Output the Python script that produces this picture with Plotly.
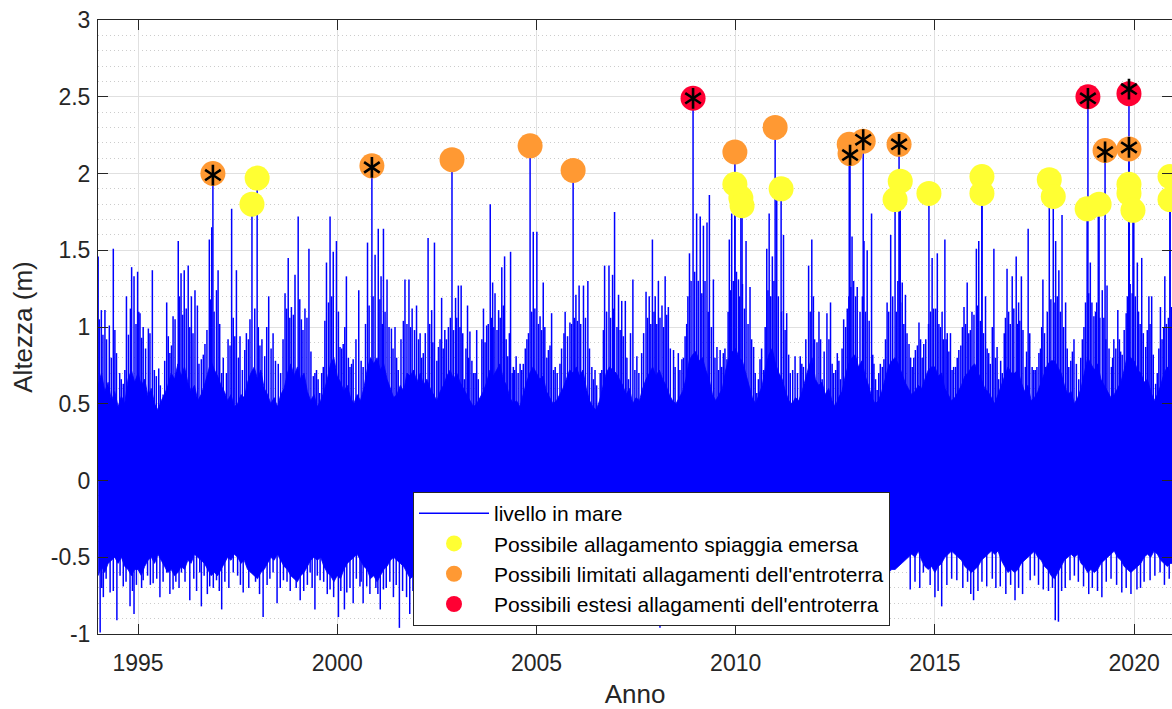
import plotly.graph_objects as go

# ---------------------------------------------------------------
# Sea level record (m), decimal years
# ---------------------------------------------------------------

# monthly envelope of the dense tidal band, Jan 1994 .. Jan 2021
band_start = 1994.0
band_top = [
    0.62, 0.70, 0.58, 0.64, 0.52, 0.58, 0.48, 0.55, 0.50, 0.66, 0.72, 0.64,
    0.70, 0.62, 0.66, 0.55, 0.60, 0.50, 0.46, 0.52, 0.56, 0.62, 0.70, 0.66,
    0.76, 0.68, 0.74, 0.64, 0.58, 0.62, 0.52, 0.56, 0.62, 0.70, 0.78, 0.72,
    0.68, 0.62, 0.58, 0.52, 0.56, 0.48, 0.50, 0.56, 0.54, 0.64, 0.70, 0.74,
    0.66, 0.72, 0.60, 0.56, 0.50, 0.54, 0.48, 0.56, 0.60, 0.70, 0.76, 0.68,
    0.74, 0.66, 0.70, 0.58, 0.52, 0.56, 0.48, 0.52, 0.58, 0.66, 0.76, 0.80,
    0.68, 0.64, 0.58, 0.62, 0.54, 0.50, 0.56, 0.52, 0.60, 0.72, 0.80, 0.76,
    0.80, 0.72, 0.76, 0.66, 0.60, 0.54, 0.56, 0.62, 0.58, 0.70, 0.68, 0.72,
    0.64, 0.70, 0.62, 0.66, 0.60, 0.56, 0.52, 0.58, 0.62, 0.68, 0.72, 0.66,
    0.70, 0.64, 0.60, 0.56, 0.52, 0.48, 0.50, 0.54, 0.58, 0.64, 0.72, 0.68,
    0.72, 0.76, 0.66, 0.62, 0.54, 0.50, 0.52, 0.48, 0.56, 0.64, 0.70, 0.74,
    0.70, 0.66, 0.68, 0.58, 0.54, 0.50, 0.52, 0.56, 0.60, 0.66, 0.72, 0.70,
    0.74, 0.68, 0.72, 0.60, 0.52, 0.48, 0.46, 0.52, 0.62, 0.70, 0.74, 0.72,
    0.70, 0.66, 0.62, 0.56, 0.60, 0.50, 0.54, 0.52, 0.60, 0.66, 0.70, 0.74,
    0.68, 0.72, 0.66, 0.62, 0.56, 0.52, 0.50, 0.54, 0.58, 0.66, 0.78, 0.82,
    0.84, 0.78, 0.80, 0.72, 0.66, 0.56, 0.52, 0.56, 0.60, 0.72, 0.80, 0.84,
    0.86, 0.80, 0.78, 0.70, 0.62, 0.54, 0.50, 0.56, 0.62, 0.74, 0.82, 0.86,
    0.76, 0.70, 0.66, 0.58, 0.52, 0.50, 0.54, 0.52, 0.58, 0.66, 0.74, 0.80,
    0.66, 0.62, 0.64, 0.56, 0.60, 0.52, 0.48, 0.54, 0.58, 0.68, 0.76, 0.80,
    0.82, 0.74, 0.78, 0.68, 0.62, 0.54, 0.50, 0.52, 0.58, 0.66, 0.74, 0.78,
    0.80, 0.76, 0.70, 0.64, 0.60, 0.56, 0.58, 0.62, 0.60, 0.66, 0.72, 0.74,
    0.74, 0.68, 0.70, 0.60, 0.56, 0.52, 0.54, 0.58, 0.62, 0.68, 0.70, 0.74,
    0.76, 0.70, 0.66, 0.60, 0.58, 0.54, 0.50, 0.56, 0.62, 0.68, 0.74, 0.70,
    0.70, 0.72, 0.64, 0.58, 0.62, 0.52, 0.54, 0.58, 0.64, 0.70, 0.76, 0.78,
    0.78, 0.74, 0.70, 0.62, 0.56, 0.58, 0.50, 0.54, 0.60, 0.70, 0.80, 0.76,
    0.72, 0.76, 0.66, 0.62, 0.58, 0.54, 0.56, 0.60, 0.64, 0.72, 0.82, 0.80,
    0.78, 0.72, 0.70, 0.64, 0.66, 0.58, 0.52, 0.56, 0.62, 0.70, 0.74, 0.70,
    0.72,
]
band_bottom = [
    -0.62, -0.56, -0.60, -0.54, -0.52, -0.50, -0.54, -0.50, -0.56, -0.58, -0.62, -0.58,
    -0.58, -0.62, -0.56, -0.52, -0.50, -0.54, -0.48, -0.52, -0.56, -0.60, -0.58, -0.62,
    -0.60, -0.56, -0.58, -0.52, -0.54, -0.48, -0.50, -0.52, -0.54, -0.58, -0.62, -0.60,
    -0.62, -0.58, -0.54, -0.50, -0.52, -0.48, -0.50, -0.54, -0.52, -0.58, -0.60, -0.62,
    -0.64, -0.60, -0.58, -0.54, -0.50, -0.52, -0.48, -0.52, -0.56, -0.58, -0.62, -0.64,
    -0.66, -0.62, -0.60, -0.56, -0.52, -0.50, -0.52, -0.50, -0.56, -0.60, -0.62, -0.66,
    -0.62, -0.64, -0.58, -0.54, -0.52, -0.50, -0.48, -0.52, -0.56, -0.58, -0.64, -0.62,
    -0.66, -0.62, -0.58, -0.56, -0.52, -0.50, -0.52, -0.54, -0.56, -0.60, -0.64, -0.62,
    -0.60, -0.58, -0.56, -0.52, -0.50, -0.48, -0.50, -0.52, -0.54, -0.58, -0.60, -0.62,
    -0.62, -0.58, -0.56, -0.54, -0.50, -0.48, -0.50, -0.52, -0.56, -0.58, -0.62, -0.60,
    -0.60, -0.62, -0.56, -0.52, -0.50, -0.52, -0.48, -0.50, -0.54, -0.58, -0.60, -0.64,
    -0.62, -0.58, -0.56, -0.52, -0.50, -0.48, -0.50, -0.52, -0.56, -0.60, -0.62, -0.60,
    -0.62, -0.60, -0.56, -0.54, -0.50, -0.48, -0.46, -0.50, -0.54, -0.58, -0.60, -0.62,
    -0.60, -0.58, -0.54, -0.52, -0.50, -0.48, -0.50, -0.52, -0.56, -0.58, -0.62, -0.60,
    -0.64, -0.60, -0.56, -0.52, -0.50, -0.48, -0.50, -0.52, -0.56, -0.60, -0.62, -0.64,
    -0.62, -0.60, -0.58, -0.54, -0.50, -0.48, -0.50, -0.54, -0.56, -0.60, -0.64, -0.62,
    -0.64, -0.62, -0.58, -0.54, -0.52, -0.50, -0.48, -0.52, -0.56, -0.58, -0.62, -0.60,
    -0.60, -0.58, -0.56, -0.52, -0.50, -0.48, -0.50, -0.52, -0.54, -0.58, -0.60, -0.62,
    -0.62, -0.60, -0.56, -0.54, -0.50, -0.48, -0.46, -0.50, -0.54, -0.58, -0.60, -0.62,
    -0.64, -0.60, -0.56, -0.52, -0.50, -0.48, -0.50, -0.52, -0.56, -0.58, -0.60, -0.58,
    -0.58, -0.56, -0.54, -0.52, -0.50, -0.48, -0.50, -0.46, -0.52, -0.56, -0.58, -0.56,
    -0.60, -0.56, -0.54, -0.50, -0.48, -0.46, -0.48, -0.50, -0.52, -0.56, -0.58, -0.60,
    -0.58, -0.56, -0.52, -0.50, -0.48, -0.46, -0.48, -0.46, -0.52, -0.56, -0.60, -0.58,
    -0.60, -0.58, -0.54, -0.52, -0.50, -0.48, -0.46, -0.50, -0.52, -0.56, -0.58, -0.62,
    -0.64, -0.60, -0.56, -0.52, -0.50, -0.48, -0.50, -0.48, -0.54, -0.56, -0.60, -0.58,
    -0.60, -0.58, -0.54, -0.52, -0.50, -0.48, -0.46, -0.50, -0.52, -0.56, -0.58, -0.60,
    -0.58, -0.56, -0.54, -0.50, -0.48, -0.50, -0.46, -0.48, -0.52, -0.54, -0.56, -0.54,
    -0.54,
]

# surge peaks above the tidal band
peak_t = [
    1994.00, 1994.08, 1994.17, 1994.28, 1994.38, 1994.46, 1994.54, 1994.63, 1994.71, 1994.84,
    1994.90, 1994.99, 1995.05, 1995.13, 1995.26, 1995.36, 1995.46, 1995.52, 1995.63, 1995.72,
    1995.80, 1995.88, 1996.01, 1996.08, 1996.16, 1996.26, 1996.34, 1996.43, 1996.49, 1996.59,
    1996.68, 1996.79, 1996.85, 1996.97, 1997.01, 1997.10, 1997.18, 1997.26, 1997.35, 1997.43,
    1997.47, 1997.56, 1997.68, 1997.77, 1998.06, 1998.18, 1998.28, 1998.39, 1998.52, 1998.69,
    1998.77, 1998.85, 1998.94, 1999.02, 1999.10, 1999.19, 1999.29, 1999.40, 1999.48, 1999.56,
    1999.65, 1999.73, 1999.82, 1999.90, 1999.98, 2000.07, 2000.15, 2000.23, 2000.32, 2000.40,
    2000.54, 2000.65, 2000.76, 2000.95, 2001.03, 2001.10, 2001.16, 2001.25, 2001.36, 2001.45,
    2001.53, 2001.70, 2001.80, 2001.88, 2001.99, 2002.08, 2002.16, 2002.28, 2002.37, 2002.44,
    2002.54, 2002.62, 2002.70, 2002.79, 2002.97,
    2003.04, 2003.11, 2003.19, 2003.27, 2003.33, 2003.42, 2003.50, 2003.58, 2003.67, 2003.75,
    2003.84, 2003.90, 2003.96, 2004.05, 2004.13, 2004.20, 2004.28, 2004.35, 2004.42, 2004.49,
    2004.59, 2004.67, 2004.76, 2004.92, 2005.01, 2005.09, 2005.17, 2005.30, 2005.38, 2005.47,
    2005.59, 2005.72, 2005.84, 2005.99, 2006.07, 2006.18, 2006.29, 2006.39, 2006.47, 2006.56,
    2006.64, 2006.71, 2006.82, 2006.91, 2006.96, 2007.06, 2007.14, 2007.23, 2007.31, 2007.42,
    2007.52, 2007.64, 2007.75, 2007.83, 2007.91, 2007.98, 2008.06, 2008.15, 2008.23, 2008.31,
    2008.44, 2008.56, 2008.65, 2008.73, 2008.84, 2009.02, 2009.11, 2009.19, 2009.28, 2009.34,
    2009.44, 2009.53, 2009.61, 2009.69, 2009.78, 2009.84, 2009.90, 2010.07, 2010.26, 2010.36,
    2010.45, 2010.53, 2010.61, 2010.70, 2010.78, 2010.84, 2010.92, 2011.03, 2011.20, 2011.28,
    2011.37, 2011.49, 2011.62, 2011.70, 2011.83, 2011.91,
    2011.98, 2012.09, 2012.17, 2012.29, 2012.38, 2012.46, 2012.55, 2012.63, 2012.71, 2012.80,
    2012.92, 2013.01, 2013.22, 2013.30, 2013.41, 2013.47, 2013.55, 2013.63, 2013.72, 2013.80,
    2013.89, 2014.11, 2014.18, 2014.26, 2014.35, 2014.43, 2014.51, 2014.60, 2014.72, 2014.93,
    2015.06, 2015.14, 2015.25, 2015.31, 2015.39, 2015.47, 2015.60, 2015.73, 2015.81, 2015.89,
    2016.04, 2016.10, 2016.27, 2016.35, 2016.48, 2016.56, 2016.69, 2016.81, 2016.94, 2017.04,
    2017.10, 2017.17, 2017.27, 2017.34, 2017.44, 2017.52, 2017.61, 2017.71, 2017.78, 2018.03,
    2018.11, 2018.19, 2018.28, 2018.36, 2018.49, 2018.61, 2018.74, 2018.90, 2018.99, 2019.10,
    2019.20, 2019.32, 2019.43, 2019.49, 2019.59, 2019.70, 2019.80, 2019.99, 2020.08, 2020.19,
    2020.29, 2020.37, 2020.44, 2020.54, 2020.66, 2020.77, 2020.94,
]
peak_v = [
    1.46, 1.11, 1.11, 1.01, 1.51, 0.83, 0.70, 0.63, 1.20, 1.39,
    1.33, 1.36, 1.09, 1.00, 0.99, 1.37, 0.68, 0.73, 0.56, 1.16,
    0.83, 1.07, 1.56, 1.35, 1.37, 1.40, 1.20, 1.24, 1.14, 0.79,
    0.89, 1.57, 1.65, 1.24, 1.37, 0.70, 0.46, 0.92, 1.77, 0.94,
    1.37, 0.94, 0.85, 0.92, 0.88, 0.81, 1.20, 0.96, 0.76, 1.22,
    1.45, 1.13, 1.34, 1.72, 1.05, 1.12, 1.51, 0.68, 0.72, 0.57,
    0.74, 1.42, 1.72, 1.49, 1.56, 0.87, 0.89, 1.33, 0.74, 0.79,
    1.24, 0.74, 1.55, 1.47, 1.64, 1.33, 1.64, 1.31, 0.99, 1.00,
    0.72, 1.31, 1.31, 1.12, 1.14, 0.96, 0.83, 1.58, 1.11, 1.55,
    0.87, 1.19, 0.98, 1.00, 1.19,
    1.27, 1.27, 0.66, 1.14, 0.97, 0.70, 0.98, 0.50, 1.12, 1.01,
    1.80, 1.29, 1.22, 1.11, 1.39, 1.46, 0.81, 1.49, 0.74, 0.81,
    0.76, 0.76, 0.92, 1.62, 1.62, 1.07, 1.29, 0.85, 1.09, 0.74,
    0.76, 1.10, 1.03, 1.21, 1.27, 1.27, 1.30, 0.74, 0.72, 0.48,
    0.72, 1.40, 1.40, 1.34, 1.75, 1.21, 1.17, 1.17, 0.66, 1.31,
    0.81, 0.83, 1.23, 1.20, 1.57, 1.20, 1.30, 1.14, 1.33, 1.13,
    0.85, 0.83, 0.79, 0.94, 1.48, 1.74, 1.72, 1.66, 1.68, 1.86,
    1.31, 0.87, 0.85, 0.83, 0.79, 1.57, 1.74, 1.31, 1.56, 1.26,
    0.87, 0.57, 0.79, 0.72, 1.51, 1.74, 1.46, 1.83, 1.60, 1.09,
    0.70, 0.81, 0.81, 0.74, 1.40, 1.57,
    0.92, 1.10, 0.66, 1.09, 1.16, 0.70, 0.83, 0.66, 1.05, 1.12,
    1.59, 1.20, 1.56, 1.50, 1.74, 0.76, 0.59, 0.76, 0.79, 1.16,
    1.60, 1.76, 1.29, 1.21, 0.89, 0.74, 0.85, 1.03, 0.89, 1.45,
    1.48, 1.00, 1.57, 0.96, 0.96, 0.74, 0.85, 1.13, 1.29, 0.98,
    1.51, 1.56, 1.20, 0.83, 1.51, 0.87, 0.70, 1.38, 1.33, 1.46,
    1.16, 1.33, 0.74, 1.64, 0.74, 0.72, 0.83, 1.31, 0.74, 1.56,
    1.37, 1.73, 1.16, 0.74, 0.92, 0.66, 1.00, 1.42, 1.07, 1.72,
    1.24, 1.27, 0.74, 0.92, 1.11, 0.82, 1.09, 1.70, 1.42, 1.45,
    0.87, 1.20, 1.20, 0.63, 1.13, 1.33, 1.13,
]

# smaller high waters between the main peaks (year, level)
minor_peaks = [
    (1994.03, 1.05), (1994.12, 0.95), (1994.21, 0.92), (1994.33, 0.80), (1994.42, 0.98),
    (1994.58, 0.66), (1994.67, 0.72), (1994.76, 0.95), (1994.81, 1.12), (1994.95, 1.02),
    (1995.02, 1.10), (1995.09, 0.93), (1995.19, 0.86), (1995.30, 0.96), (1995.41, 0.72),
    (1995.56, 0.62), (1995.67, 0.78), (1995.76, 0.94), (1995.84, 0.88), (1995.93, 1.05),
    (1996.04, 1.20), (1996.12, 1.08), (1996.21, 1.12), (1996.30, 1.00), (1996.38, 0.96),
    (1996.53, 0.76), (1996.64, 0.82), (1996.73, 0.98), (1996.82, 1.18), (1996.91, 1.10),
    (1997.05, 1.02), (1997.14, 0.80), (1997.22, 0.70), (1997.31, 0.88), (1997.39, 1.06),
    (1997.52, 0.80), (1997.62, 0.72), (1997.72, 0.96), (1997.81, 1.05), (1997.93, 1.12),
    (1998.02, 1.00), (1998.11, 0.92), (1998.23, 1.00), (1998.34, 0.86), (1998.45, 0.78),
    (1998.58, 0.70), (1998.64, 0.92), (1998.73, 1.12), (1998.81, 1.06), (1998.90, 1.08),
    (1999.06, 1.18), (1999.14, 0.98), (1999.24, 1.06), (1999.34, 0.84), (1999.44, 0.70),
    (1999.52, 0.66), (1999.61, 0.70), (1999.69, 1.04), (1999.78, 1.16), (1999.86, 1.20),
    (2000.03, 1.10), (2000.11, 0.86), (2000.19, 1.00), (2000.28, 0.80), (2000.36, 0.76),
    (2000.47, 0.92), (2000.60, 0.78), (2000.71, 1.02), (2000.80, 1.14), (2000.90, 1.20),
    (2001.07, 1.18), (2001.13, 1.02), (2001.20, 1.10), (2001.30, 1.00), (2001.40, 0.86),
    (2001.49, 0.80), (2001.60, 0.92), (2001.66, 1.04), (2001.75, 1.02), (2001.84, 1.00),
    (2001.94, 0.98), (2002.04, 0.92), (2002.12, 0.80), (2002.21, 0.96), (2002.32, 1.02),
    (2002.40, 0.90), (2002.50, 0.78), (2002.58, 0.92), (2002.66, 0.86), (2002.74, 0.92),
    (2002.84, 1.06), (2002.92, 0.98), (2003.00, 1.06), (2003.08, 1.00), (2003.15, 0.96),
    (2003.23, 0.86), (2003.30, 0.80), (2003.38, 0.78), (2003.46, 0.70), (2003.54, 0.66),
    (2003.63, 0.92), (2003.71, 0.90), (2003.79, 1.02), (2003.87, 1.06), (2003.93, 1.00),
    (2004.01, 0.98), (2004.09, 1.06), (2004.17, 1.14), (2004.24, 0.92), (2004.32, 0.96),
    (2004.39, 0.70), (2004.45, 0.72), (2004.54, 0.70), (2004.63, 0.72), (2004.72, 0.86),
    (2004.80, 0.96), (2004.88, 1.10), (2004.96, 1.12), (2005.05, 1.02), (2005.13, 0.98),
    (2005.21, 1.00), (2005.26, 0.80), (2005.34, 0.88), (2005.43, 0.72), (2005.52, 0.70),
    (2005.63, 0.86), (2005.69, 0.96), (2005.78, 0.94), (2005.88, 1.02), (2005.95, 1.06),
    (2006.03, 1.04), (2006.11, 1.02), (2006.23, 1.06), (2006.33, 0.86), (2006.43, 0.66),
    (2006.51, 0.62), (2006.60, 0.70), (2006.68, 0.98), (2006.76, 1.10), (2006.86, 1.06),
    (2006.93, 1.12), (2007.02, 1.00), (2007.10, 0.98), (2007.18, 0.94), (2007.27, 0.80),
    (2007.36, 0.96), (2007.47, 0.72), (2007.57, 0.70), (2007.69, 0.96), (2007.79, 1.06),
    (2007.87, 1.02), (2007.95, 1.10), (2008.02, 1.02), (2008.10, 1.06), (2008.19, 1.00),
    (2008.27, 1.08), (2008.36, 0.86), (2008.48, 0.74), (2008.60, 0.72), (2008.69, 0.80),
    (2008.77, 1.02), (2008.80, 1.20), (2008.88, 1.30), (2008.97, 1.36), (2009.06, 1.30),
    (2009.15, 1.22), (2009.23, 1.30), (2009.31, 1.10), (2009.39, 1.00), (2009.48, 0.80),
    (2009.57, 0.72), (2009.65, 0.74), (2009.73, 0.86), (2009.81, 1.10), (2009.87, 1.24),
    (2009.94, 1.30), (2010.02, 1.36), (2010.10, 1.20), (2010.17, 1.28), (2010.22, 1.12),
    (2010.31, 1.02), (2010.40, 0.92), (2010.49, 0.70), (2010.57, 0.66), (2010.65, 0.86),
    (2010.74, 1.00), (2010.81, 1.24), (2010.88, 1.20), (2010.96, 1.30), (2011.07, 1.20),
    (2011.15, 1.10), (2011.24, 0.98), (2011.33, 0.82), (2011.43, 0.72), (2011.55, 0.70),
    (2011.66, 0.76), (2011.76, 0.92), (2011.87, 1.10), (2011.95, 1.20), (2012.04, 0.90),
    (2012.13, 0.92), (2012.22, 0.84), (2012.34, 0.92), (2012.42, 0.76), (2012.51, 0.72),
    (2012.59, 0.78), (2012.67, 0.86), (2012.76, 1.00), (2012.84, 1.20), (2012.89, 1.26),
    (2012.96, 1.30), (2013.05, 1.26), (2013.12, 1.10), (2013.18, 1.20), (2013.26, 1.10),
    (2013.35, 1.04), (2013.44, 0.82), (2013.51, 0.66), (2013.59, 0.70), (2013.68, 0.74),
    (2013.76, 0.92), (2013.84, 1.10), (2013.94, 1.20), (2014.03, 1.10), (2014.07, 1.30),
    (2014.14, 1.16), (2014.22, 1.02), (2014.30, 0.96), (2014.39, 0.80), (2014.47, 0.80),
    (2014.56, 0.88), (2014.64, 0.92), (2014.68, 0.80), (2014.77, 0.92), (2014.84, 1.02),
    (2014.89, 1.10), (2014.97, 1.12), (2015.02, 1.12), (2015.10, 1.02), (2015.18, 1.10),
    (2015.21, 0.92), (2015.28, 0.92), (2015.35, 0.84), (2015.43, 0.72), (2015.52, 0.74),
    (2015.56, 0.80), (2015.65, 0.88), (2015.69, 1.00), (2015.77, 1.02), (2015.85, 0.96),
    (2015.93, 1.10), (2015.98, 1.08), (2016.07, 1.14), (2016.14, 1.04), (2016.22, 0.96),
    (2016.31, 0.86), (2016.39, 0.76), (2016.44, 1.00), (2016.52, 0.80), (2016.60, 0.66),
    (2016.65, 0.78), (2016.74, 0.96), (2016.77, 1.06), (2016.85, 1.10), (2016.89, 1.02),
    (2016.98, 1.12), (2017.07, 1.02), (2017.13, 1.04), (2017.21, 0.98), (2017.30, 0.84),
    (2017.38, 0.96), (2017.48, 0.72), (2017.56, 0.74), (2017.65, 0.86), (2017.68, 1.00),
    (2017.75, 0.96), (2017.82, 1.10), (2017.91, 1.18), (2017.99, 1.16), (2018.07, 1.20),
    (2018.15, 1.10), (2018.23, 1.00), (2018.32, 0.86), (2018.41, 0.78), (2018.45, 0.84),
    (2018.55, 0.76), (2018.66, 0.80), (2018.70, 0.92), (2018.78, 1.16), (2018.86, 1.22),
    (2018.94, 1.16), (2019.03, 1.10), (2019.06, 1.16), (2019.14, 1.06), (2019.24, 1.06),
    (2019.29, 0.92), (2019.37, 0.86), (2019.46, 0.80), (2019.54, 0.86), (2019.63, 0.92),
    (2019.66, 0.84), (2019.75, 0.98), (2019.83, 1.20), (2019.90, 1.28), (2019.95, 1.22),
    (2020.03, 1.20), (2020.11, 1.10), (2020.15, 1.02), (2020.23, 0.96), (2020.33, 0.98),
    (2020.40, 1.02), (2020.48, 0.82), (2020.58, 0.70), (2020.62, 0.86), (2020.70, 0.92),
    (2020.74, 1.00), (2020.81, 1.02), (2020.86, 1.06), (2020.91, 1.00),
]

# low-water minima below the tidal band
dip_t = [
    1994.05, 1994.13, 1994.30, 1994.47, 1994.63, 1994.80, 1994.90, 1995.05, 1995.13, 1995.38,
    1995.55, 1995.72, 1995.88, 1996.09, 1996.30, 1996.55, 1996.59, 1996.80, 1996.97, 1997.10,
    1997.39, 1997.64, 1997.89, 1998.14, 1998.39, 1998.49, 1998.65, 1998.90, 1999.07, 1999.32,
    1999.44, 1999.57, 1999.82, 2000.03, 2000.18, 2000.24, 2000.40, 2000.57, 2000.65, 2000.74,
    2000.91, 2001.08, 2001.16, 2001.41, 2001.56, 2001.82,
    2004.16, 2005.01, 2008.10,
    2014.38, 2014.71, 2015.00, 2015.17, 2015.55, 2015.97, 2016.30, 2016.64, 2017.01, 2017.39,
    2017.72, 2018.02, 2018.10, 2018.39, 2018.73, 2019.19, 2019.69, 2020.07, 2020.40, 2020.65,
]
dip_v = [
    -0.99, -0.76, -0.73, -0.91, -0.69, -0.82, -0.87, -0.60, -0.65, -0.67,
    -0.76, -0.60, -0.71, -0.60, -0.78, -0.60, -0.82, -0.69, -0.65, -0.84,
    -0.60, -0.73, -0.58, -0.89, -0.60, -0.80, -0.65, -0.60, -0.78, -0.60,
    -0.84, -0.65, -0.71, -0.89, -0.84, -0.73, -0.80, -0.69, -0.80, -0.69,
    -0.60, -0.84, -0.71, -0.76, -0.96, -0.87,
    -0.88, -0.94, -0.96,
    -0.71, -0.60, -0.76, -0.82, -0.65, -0.78, -0.69, -0.69, -0.78, -0.65,
    -0.71, -0.91, -0.92, -0.65, -0.69, -0.76, -0.73, -0.71, -0.65, -0.60,
]

# smaller low waters (year, level)
minor_dips = [
    (1994.09, -0.70), (1994.20, -0.64), (1994.38, -0.72), (1994.55, -0.62), (1994.70, -0.66),
    (1994.86, -0.72), (1994.96, -0.68), (1995.09, -0.70), (1995.24, -0.62), (1995.31, -0.68),
    (1995.47, -0.64), (1995.63, -0.66), (1995.80, -0.74), (1995.95, -0.66), (1996.03, -0.70),
    (1996.18, -0.66), (1996.40, -0.64), (1996.47, -0.72), (1996.66, -0.62), (1996.74, -0.74),
    (1996.89, -0.70), (1997.04, -0.72), (1997.18, -0.66), (1997.28, -0.70), (1997.50, -0.62),
    (1997.57, -0.68), (1997.78, -0.70), (1997.95, -0.66), (1998.05, -0.74), (1998.24, -0.68),
    (1998.31, -0.64), (1998.57, -0.70), (1998.74, -0.66), (1998.82, -0.72), (1998.97, -0.70),
    (1999.16, -0.72), (1999.25, -0.68), (1999.37, -0.70), (1999.50, -0.62), (1999.66, -0.66),
    (1999.75, -0.74), (1999.91, -0.76), (2000.09, -0.72), (2000.32, -0.70), (2000.48, -0.64),
    (2000.60, -0.66), (2000.82, -0.74), (2000.97, -0.70), (2001.02, -0.74), (2001.23, -0.70),
    (2001.32, -0.66), (2001.48, -0.68), (2001.64, -0.72), (2001.74, -0.76), (2001.90, -0.72),
    (2014.50, -0.66), (2014.62, -0.70), (2014.88, -0.68), (2015.08, -0.72), (2015.30, -0.68),
    (2015.42, -0.64), (2015.70, -0.70), (2015.82, -0.66), (2015.90, -0.74), (2016.08, -0.72),
    (2016.18, -0.66), (2016.44, -0.64), (2016.53, -0.70), (2016.78, -0.74), (2016.90, -0.68),
    (2017.10, -0.70), (2017.20, -0.74), (2017.50, -0.62), (2017.60, -0.68), (2017.85, -0.72),
    (2017.95, -0.70), (2018.18, -0.72), (2018.27, -0.70), (2018.50, -0.62), (2018.60, -0.66),
    (2018.86, -0.74), (2018.95, -0.70), (2019.08, -0.72), (2019.30, -0.66), (2019.42, -0.64),
    (2019.56, -0.68), (2019.80, -0.70), (2019.92, -0.74), (2020.16, -0.70), (2020.25, -0.66),
    (2020.52, -0.62), (2020.76, -0.68), (2020.88, -0.64),
]

# flooding events, by class
yellow_t = [1997.86, 1997.99, 2009.98, 2010.13, 2010.16, 2011.14, 2014.00, 2014.13, 2014.85, 2016.18,
            2016.18, 2017.87, 2017.97, 2018.82, 2019.12, 2019.87, 2019.87, 2019.97, 2020.90, 2020.90]
yellow_v = [1.80, 1.97, 1.93, 1.84, 1.79, 1.90, 1.83, 1.95, 1.87, 1.98,
            1.87, 1.96, 1.85, 1.77, 1.80, 1.93, 1.87, 1.76, 1.98, 1.83]
orange_t = [1996.88, 2000.87, 2002.88, 2004.84, 2005.92, 2009.98, 2010.99, 2012.85, 2012.87, 2013.20,
            2014.10, 2019.27, 2019.87]
orange_v = [2.00, 2.05, 2.09, 2.18, 2.02, 2.14, 2.30, 2.19, 2.13, 2.21,
            2.19, 2.15, 2.16]
red_t = [2008.93, 2018.84, 2019.87]
red_v = [2.49, 2.50, 2.52]

# events flagged with an asterisk
star_t = [1996.88, 2000.87, 2008.93, 2012.87, 2013.20, 2014.10, 2018.84, 2019.27, 2019.87, 2019.87]
star_v = [1.99, 2.04, 2.49, 2.12, 2.22, 2.19, 2.49, 2.14, 2.55, 2.17]

year_ticks = [1995, 2000, 2005, 2010, 2015, 2020]
level_ticks = [-1, -0.5, 0, 0.5, 1, 1.5, 2, 2.5, 3]
level_labels = ["-1", "-0.5", "0", "0.5", "1", "1.5", "2", "2.5", "3"]

# ---------------------------------------------------------------
BLUE = "#0000FF"
INK = "#262626"
FONT = "Liberation Sans, Arial, sans-serif"

band_x = [band_start + i / 12 for i in range(len(band_top))]

# vertical strokes from mean level to each extreme (peaks, minima, events)
extremes = (list(zip(peak_t, peak_v)) + minor_peaks + list(zip(dip_t, dip_v)) + minor_dips
            + list(zip(yellow_t, yellow_v)) + list(zip(orange_t, orange_v)) + list(zip(red_t, red_v)))
stroke_x, stroke_y = [], []
for t, v in extremes:
    stroke_x += [t, t, None]
    stroke_y += [0.0, v, None]

fig = go.Figure()

fig.add_trace(go.Scatter(
    x=band_x + band_x[::-1], y=band_top + band_bottom[::-1],
    fill="toself", fillcolor=BLUE, line=dict(width=0.8, color=BLUE),
    mode="lines", hoverinfo="skip", showlegend=False,
))
fig.add_trace(go.Scatter(
    x=stroke_x, y=stroke_y, mode="lines", name="livello in mare",
    line=dict(color=BLUE, width=1.5),
))
fig.add_trace(go.Scatter(
    x=yellow_t, y=yellow_v, mode="markers", name="Possibile allagamento spiaggia emersa",
    marker=dict(size=25, color="#FFFF33", line=dict(width=0)),
))
fig.add_trace(go.Scatter(
    x=orange_t, y=orange_v, mode="markers", name="Possibili limitati allagamenti dell'entroterra",
    marker=dict(size=25, color="#FF9933", line=dict(width=0)),
))
fig.add_trace(go.Scatter(
    x=red_t, y=red_v, mode="markers", name="Possibili estesi allagamenti dell'entroterra",
    marker=dict(size=25, color="#FF0033", line=dict(width=0)),
))
for sym in ("y-up-open", "y-down-open"):
    fig.add_trace(go.Scatter(
        x=star_t, y=star_v, mode="markers", showlegend=False, hoverinfo="skip",
        marker=dict(symbol=sym, size=13, color="black", line=dict(width=2.6, color="black")),
    ))

fig.update_layout(
    width=1172, height=709,
    margin=dict(l=98, r=0, t=20, b=75),
    paper_bgcolor="white", plot_bgcolor="white",
    font=dict(family=FONT, color=INK),
    showlegend=True,
    legend=dict(
        x=0.2933, y=0.2313, xanchor="left", yanchor="top",
        bgcolor="white", bordercolor=INK, borderwidth=1,
        font=dict(size=21, family=FONT, color="black"),
        itemwidth=70, itemsizing="trace", tracegroupgap=0,
    ),
)
fig.update_xaxes(
    range=[1993.996, 2020.95],
    tickvals=year_ticks, ticktext=[str(y) for y in year_ticks],
    ticks="inside", ticklen=10, tickcolor=INK, tickwidth=1,
    showline=True, linecolor=INK, linewidth=1, mirror="ticks",
    showgrid=True, gridcolor="#E0E0E0", gridwidth=1, zeroline=False,
    tickfont=dict(size=23, color=INK, family=FONT),
    ticklabelstandoff=8,
    title=dict(text="Anno", font=dict(size=26, color=INK, family=FONT), standoff=12),
)
fig.update_yaxes(
    range=[-1, 3],
    tickvals=level_ticks, ticktext=level_labels,
    ticks="inside", ticklen=10, tickcolor=INK, tickwidth=1,
    showline=True, linecolor=INK, linewidth=1, mirror="ticks",
    showgrid=True, gridcolor="#E0E0E0", gridwidth=1, zeroline=False,
    minor=dict(dtick=0.1, showgrid=True, gridcolor="#CCCCCC", griddash="1px,3px", gridwidth=1, ticks=""),
    tickfont=dict(size=23, color=INK, family=FONT),
    ticklabelstandoff=2,
    title=dict(text="Altezza (m)", font=dict(size=26, color=INK, family=FONT), standoff=10),
)

fig.write_html("out.html")
